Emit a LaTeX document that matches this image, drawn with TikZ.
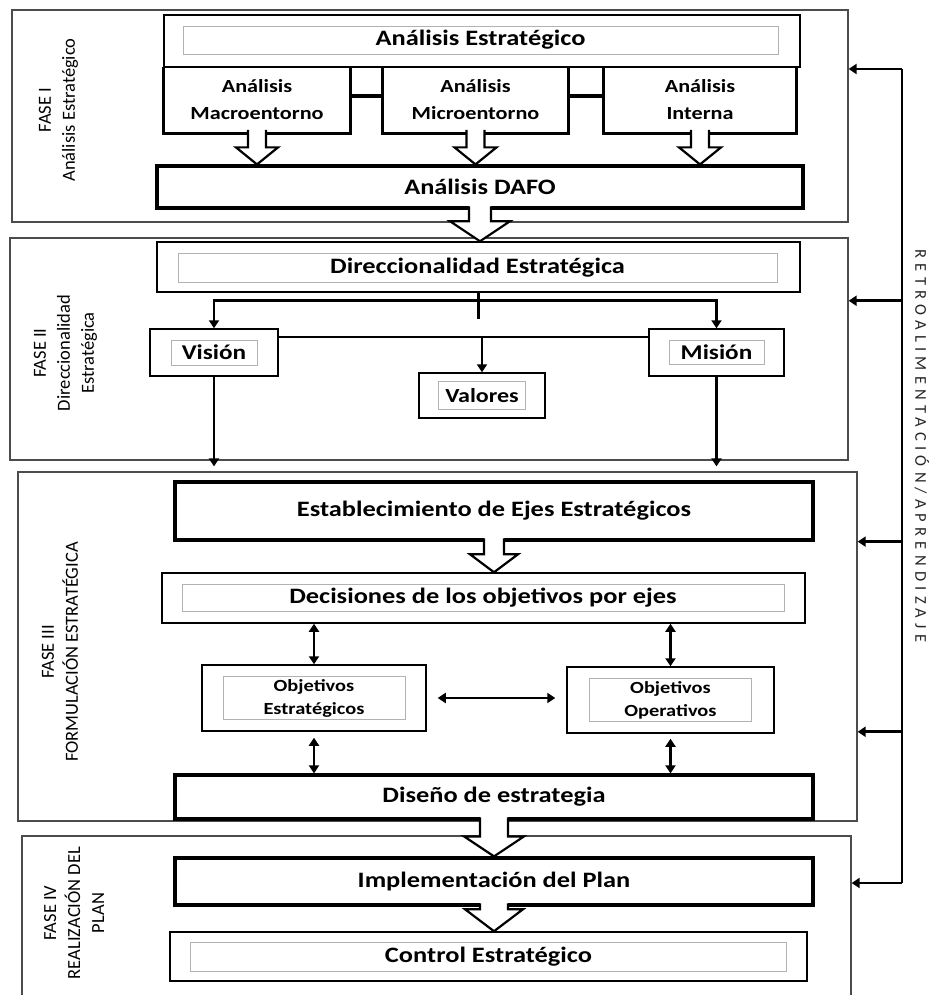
\documentclass[tikz,border=0pt]{standalone}
\usepackage{fontspec}
\setmainfont{Carlito}[FakeStretch=1.2]
\newfontfamily\sidefont{Carlito}
\newfontfamily\fbfont{Carlito}[LetterSpace=32]
\usetikzlibrary{arrows.meta,calc}
% hollow block arrow: start, tip, shaft half width, head half width, head length
\newcommand{\hollow}[5]{%
	\fill[white] let \p1=(#1), \p2=(#2) in
		(\x1-#3pt,\y1+3.4pt) -- (\x1-#3pt,\y2+#5pt) -- (\x1-#4pt,\y2+#5pt) -- (\x1,\y2)
		-- (\x1+#4pt,\y2+#5pt) -- (\x1+#3pt,\y2+#5pt) -- (\x1+#3pt,\y1+3.4pt) -- cycle;
	\draw[line width=2.2pt,line join=miter] let \p1=(#1), \p2=(#2) in
		(\x1-#3pt,\y1+3.2pt) -- (\x1-#3pt,\y2+#5pt) -- (\x1-#4pt,\y2+#5pt) -- (\x1,\y2)
		-- (\x1+#4pt,\y2+#5pt) -- (\x1+#3pt,\y2+#5pt) -- (\x1+#3pt,\y1+3.2pt);
}
\begin{document}
\begin{tikzpicture}[x=1pt,y=-1pt,
		phase/.style={draw=black!70,line width=1.3pt,inner sep=0pt},
		heavy/.style={draw,line width=3.2pt,inner sep=0pt,font=\bfseries\fontsize{22}{26}\selectfont},
		plain/.style={draw,line width=1.5pt,inner sep=0pt},
		open/.style={inner sep=0pt,align=center,font=\bfseries\fontsize{18.5}{27}\selectfont},
		inner/.style={draw=black!30,line width=0.7pt,inner sep=0pt,align=center,font=\bfseries\fontsize{22}{26}\selectfont},
		small/.style={inner,font=\bfseries\fontsize{17}{23}\selectfont},
		side/.style={rotate=90,align=center,font=\sidefont\fontsize{18.5}{24}\selectfont},
		flow/.style={line width=2.8pt,-{Triangle[width=10pt,length=8pt]}},
		both/.style={line width=2.8pt,{Triangle[width=10pt,length=8pt]}-{Triangle[width=10pt,length=8pt]}}]
	\useasboundingbox (0,0) rectangle (938,995);
	\clip (0,0) rectangle (938,995);
	% phases
	\node[phase,minimum width=836pt,minimum height=212pt] (fase1) at (430,116) {};
	\node[phase,minimum width=838pt,minimum height=222pt] (fase2) at (429,349) {};
	\node[phase,minimum width=839pt,minimum height=349pt] (fase3) at (437.5,646.5) {};
	\node[phase,minimum width=829pt,minimum height=174pt] (fase4) at (436.5,923) {};
	\node[side] (lab1) at (58.5,110) {FASE I\\Análisis Estratégico};
	\node[side] (lab2) at (65.5,353) {FASE II\\Direccionalidad\\Estratégica};
	\node[side] (lab3) at (60,652) {FASE III\\FORMULACIÓN ESTRATÉGICA};
	\node[side] (lab4) at (74,913) {FASE IV\\REALIZACIÓN DEL\\PLAN};
	% fase I
	\node[plain,minimum width=636pt,minimum height=52pt] (ae) at (482,41) {};
	\node[inner,minimum width=595pt,minimum height=28pt] (aet) at (480.5,40) {Análisis Estratégico};
	\node[open,minimum width=186pt,minimum height=66pt] (macro) at (257,100) {Análisis\\Macroentorno};
	\node[open,minimum width=185pt,minimum height=66pt] (micro) at (475.5,100) {Análisis\\Microentorno};
	\node[open,minimum width=192pt,minimum height=66pt] (interna) at (700,100) {Análisis\\Interna};
	\foreach \b in {macro,micro,interna}
		\draw[line width=3.2pt] (\b.north west) |- (\b.south east) -- (\b.north east);
	\draw[line width=3.2pt] ([yshift=4pt]macro.east) -- ([yshift=4pt]micro.west);
	\draw[line width=3.2pt] ([yshift=4pt]micro.east) -- ([yshift=4pt]interna.west);
	\node[heavy,minimum width=646pt,minimum height=42pt] (dafo) at (480,187) {Análisis DAFO};
	% fase II
	\node[plain,minimum width=643pt,minimum height=50pt] (dir) at (478.5,267) {};
	\node[inner,minimum width=599pt,minimum height=29pt] (dirt) at (477.5,267.5) {Direccionalidad Estratégica};
	\node[plain,minimum width=128pt,minimum height=47pt] (vision) at (214,352.5) {};
	\node[inner,minimum width=86pt,minimum height=25pt,font=\bfseries\fontsize{21}{25}\selectfont] (visiont) at (vision) {Visión};
	\node[plain,minimum width=135pt,minimum height=47pt] (mision) at (716.5,352.5) {};
	\node[inner,minimum width=95pt,minimum height=24pt,font=\bfseries\fontsize{21}{25}\selectfont] (misiont) at (mision) {Misión};
	\node[plain,minimum width=126pt,minimum height=45pt] (valores) at (482,395.5) {};
	\node[inner,minimum width=87pt,minimum height=28pt,font=\bfseries\fontsize{20}{24}\selectfont] (valorest) at (valores) {Valores};
	\coordinate (split) at ($(dir.south)+(0,8)$);
	\draw[line width=3pt] (dir.south) -- ++(0,26);
	\draw[flow] (split) -| (vision.north);
	\draw[flow] (split) -| (mision.north);
	\coordinate (vm) at ($(vision.north east)+(0,9)$);
	\draw[line width=2.4pt] (vm) -- (vm -| mision.west);
	\draw[flow] (vm -| valores.north) -- (valores.north);
	\draw[flow] (vision.south) -- ($(vision.south |- fase3.north)+(0,-5)$);
	\draw[flow] (mision.south) -- ($(mision.south |- fase3.north)+(0,-5)$);
	% fase III
	\node[heavy,minimum width=638pt,minimum height=58pt] (estab) at (494,511) {Establecimiento de Ejes Estratégicos};
	\node[plain,minimum width=643pt,minimum height=50pt] (dec) at (483.5,598) {};
	\node[inner,minimum width=602pt,minimum height=27pt] (dect) at (483,597.5) {Decisiones de los objetivos por ejes};
	\node[plain,minimum width=224pt,minimum height=66pt] (objest) at (314,698) {};
	\node[small,minimum width=182pt,minimum height=43pt] (objestt) at (objest) {Objetivos\\Estratégicos};
	\node[plain,minimum width=207pt,minimum height=66pt] (objop) at (670.5,700) {};
	\node[small,minimum width=162pt,minimum height=43pt] (objopt) at (objop) {Objetivos\\Operativos};
	\node[heavy,minimum width=638pt,minimum height=44pt] (diseno) at (494,797) {Diseño de estrategia};
	\draw[both] (objest.north |- dec.south) -- (objest.north);
	\draw[both] (objop.north |- dec.south) -- (objop.north);
	\draw[both,shorten <=11pt,shorten >=11pt] (objest.east) -- (objest.east -| objop.west);
	\draw[both,shorten <=6pt] (objest.south) -- (objest.south |- diseno.north);
	\draw[both,shorten <=5pt] (objop.south) -- (objop.south |- diseno.north);
	% fase IV
	\node[heavy,minimum width=638pt,minimum height=47pt] (impl) at (494,881.5) {Implementación del Plan};
	\node[plain,minimum width=637pt,minimum height=49pt] (control) at (488.5,956.5) {};
	\node[inner,minimum width=596pt,minimum height=29pt] (controlt) at (control) {Control Estratégico};
	% block arrows
	\hollow{macro.south}{macro.south |- dafo.north}{9}{21}{17}
	\hollow{micro.south}{micro.south |- dafo.north}{9}{21}{17}
	\hollow{interna.south}{interna.south |- dafo.north}{9}{21}{17}
	\hollow{dafo.south}{dafo.south |- dir.north}{11}{30}{20}
	\hollow{estab.south}{estab.south |- dec.north}{10}{24}{18}
	\hollow{diseno.south}{diseno.south |- impl.north}{14}{30}{20}
	\hollow{impl.south}{impl.south |- control.north}{14}{29}{22}
	% feedback
	\coordinate (fbtop) at (902,69);
	\coordinate (fbbot) at (902,883);
	\draw[line width=2.8pt] (fbtop) -- (fbbot);
	\draw[flow] (fbtop) -- (fbtop -| fase1.east);
	\draw[flow] (fbtop |- split) -- (split -| fase2.east);
	\draw[flow] (fbtop |- estab.south) -- (estab.south -| fase3.east);
	\draw[flow] (fbtop |- objest.south) -- (objest.south -| fase3.east);
	\draw[flow] (fbbot) -- (fbbot -| fase4.east);
	\node[rotate=-90,font=\fbfont\fontsize{16.5}{18}\selectfont,text=black!85] (fbl) at (922,446) {RETROALIMENTACIÓN/APRENDIZAJE};
\end{tikzpicture}
\end{document}
